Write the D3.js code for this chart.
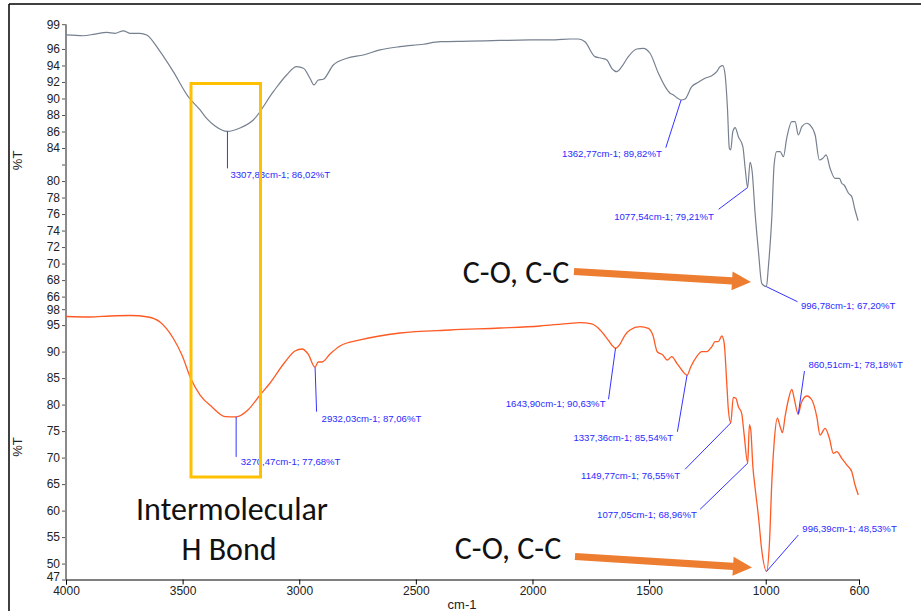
<!DOCTYPE html>
<html><head><meta charset="utf-8">
<script src="https://cdn.jsdelivr.net/npm/d3@7/dist/d3.min.js"></script>
<style>body{margin:0;background:#fff}svg{display:block}</style>
</head><body><svg id="c" width="921" height="611"></svg>
<script>
// ---------- data ----------
const topWn = [4000,3926,3876,3825,3790,3754,3726,3683,3654,3597,3540,3476,3425,3397,3361,3307.83,3254,3197,3111,3054,3011,2982,2954,2937,2918,2897,2854,2796,2725,2654,2568,2468,2396,2268,2139,2010,1903,1839,1803,1775,1732,1703,1681,1660,1639,1617,1589,1553,1525,1496,1460,1431,1410,1396,1381,1362.77,1346,1317,1289,1260,1231,1210,1196,1184,1174,1164,1156,1150,1141,1131,1117,1098,1088,1077.54,1067,1058,1046,1031,1017,996.78,989,974,964,953,938,924,910,888,874,860,845,824,810,788,770,755,741,724,703,684,674,664,645,631,617,607,604];
const topT = [97.7,97.6,97.8,98.0,97.9,98.2,97.9,97.9,97.7,95.7,93.25,90.22,88.61,87.6,86.67,86.02,86.43,87.4,90.83,92.85,93.85,93.66,92.45,91.64,92.24,92.33,94.06,94.87,95.27,95.88,96.28,96.57,96.88,96.94,97.03,97.09,97.11,97.21,97.21,96.88,95.07,94.87,94.67,93.66,93.25,93.85,95.07,96.0,96.08,95.48,93.05,91.43,90.63,90.43,90.1,89.82,89.94,91.43,91.96,92.45,92.76,93.25,93.85,93.98,92.85,88.81,83.97,83.76,85.98,86.46,85.37,84.16,81.55,79.21,82.27,81.13,76.29,71.44,67.61,67.2,69.43,75.49,81.95,83.56,83.56,82.95,85.18,87.19,87.19,85.58,86.59,87.0,86.79,85.58,82.55,82.76,83.16,81.55,80.33,80.33,79.73,79.52,78.52,78.1,76.49,75.49,75.2];

const botWn = [4000,3897,3811,3726,3648,3597,3541,3503,3464,3425,3374,3318,3270.47,3220,3168,3125,3061,3018,2988,2962,2932.03,2919,2902,2868,2825,2739,2568,2353,2139,1967,1839,1796,1746,1710,1681,1660,1643.9,1627,1603,1582,1539,1503,1484,1465,1441,1422,1403,1381,1360,1337.36,1321,1296,1274,1253,1231,1217,1203,1188,1178,1167,1160,1149.77,1139,1128,1117,1103,1093,1077.05,1070,1064,1055,1046,1031,1017,996.39,984,974,964,950,938,928,917,903,888,878,860.51,848,824,802,781,767,745,727,710,695,674,652,631,617,603];
const botT = [96.62,96.53,96.72,96.81,96.53,95.58,92.57,89.36,84.83,81.81,79.55,77.75,77.68,78.98,81.81,84.08,88.04,90.11,90.49,89.55,87.06,88.04,88.04,89.55,91.06,92.19,93.51,94.08,94.45,94.83,95.34,95.45,95.21,94.08,92.51,91.25,90.63,91.25,93.13,94.08,94.7,94.4,93.13,89.98,89.36,88.41,89.04,87.79,86.53,85.54,87.15,89.04,89.98,89.98,90.92,91.87,91.87,92.94,91.57,84.02,78.98,76.55,81.38,81.19,79.6,78.36,74.58,68.96,76.15,75.21,68.28,64.51,58.85,52.57,48.53,53.83,65.15,72.7,77.42,75.83,74.7,77.72,80.87,82.89,81.19,78.18,80.25,81.62,80.87,77.72,74.26,75.53,73.64,70.81,71.11,69.87,68.6,67.34,64.83,62.94];

const topPeakWn = [3307.83, 1362.77, 1077.54, 996.78];
const topPeakT  = [86.02, 89.82, 79.21, 67.20];
const botPeakWn = [3270.47, 2932.03, 1643.90, 1337.36, 1149.77, 1077.05, 996.39, 860.51];
const botPeakT  = [77.68, 87.06, 90.63, 85.54, 76.55, 68.96, 48.53, 78.18];

const xTicks = [4000, 3500, 3000, 2500, 2000, 1500, 1000, 600];
const topTicks = [99, 96, 94, 92, 90, 88, 86, 84, 82, 80, 78, 76, 74, 72, 70, 68, 66];
const topTickLabels = ["99","96","94","92","90","88","86","84","","80","78","76","74","72","70","68","66"];
const botTicks = [98, 95, 90, 85, 80, 75, 70, 65, 60, 55, 50, 47];

const xTitle = "cm-1", yTitle = "%T";
const noteText = ["Intermolecular", "H Bond"];
const bondText = "C-O, C-C";

// ---------- layout ----------
const topLayout = [
  {lx:0, ly:37, tx:3, ty:9.5, anchor:"start"},
  {lx:-15.3, ly:47.7, tx:-4, ty:9, anchor:"end"},
  {lx:-29, ly:21.7, tx:-4.7, ty:10.5, anchor:"end"},
  {lx:31, ly:15, tx:3.5, ty:7, anchor:"start"}
];
const botLayout = [
  {lx:0, ly:40, tx:4.6, ty:8.3, anchor:"start"},
  {lx:1.5, ly:44.5, tx:5, ty:10.8, anchor:"start"},
  {lx:-7, ly:51, tx:-3, ty:8.2, anchor:"end"},
  {lx:-9.6, ly:56.5, tx:-4.3, ty:9.3, anchor:"end"},
  {lx:-45.7, ly:46.4, tx:-5, ty:9.7, anchor:"end"},
  {lx:-47.6, ly:46.2, tx:-3.3, ty:8.5, anchor:"end"},
  {lx:31.8, ly:-36.4, tx:4, ty:-2.5, anchor:"start"},
  {lx:6.2, ly:-43.2, tx:4, ty:-3.2, anchor:"start"}
];

const svg = d3.select("#c");
const x = d3.scaleLinear().domain([4000, 600]).range([66, 859]);
const yTop = d3.scaleLinear().domain([66, 99]).range([296.6, 24.2]);
const yBot = d3.scaleLinear().domain([47, 98]).range([579.5, 309.2]);

// frame
svg.append("line").attr("x1",9).attr("x2",921).attr("y1",4).attr("y2",4).attr("stroke","#000").attr("stroke-width",1.5);
svg.append("line").attr("x1",9).attr("x2",9).attr("y1",4).attr("y2",611).attr("stroke","#000").attr("stroke-width",1.5);

const tickFont = "'Liberation Sans', Arial, sans-serif";

// y axes
function yAxis(scale, vals, labels) {
  const g = svg.append("g").attr("transform","translate(66,0)")
    .call(d3.axisLeft(scale).tickValues(vals).tickSize(4).tickPadding(2)
      .tickFormat((d,i) => labels ? labels[i] : d));
  g.select(".domain").remove();
  g.selectAll(".tick line").attr("stroke","#555");
  g.selectAll(".tick text").attr("fill","#222").style("font-family",tickFont).style("font-size","12px");
  return g;
}
yAxis(yTop, topTicks, topTickLabels);
const gb = yAxis(yBot, botTicks, null);
gb.selectAll(".tick text").filter(d => d === 47).attr("dy","0.1em");
svg.append("line").attr("x1",66).attr("x2",66).attr("y1",yTop(99)).attr("y2",yBot(47))
  .attr("stroke","#8a8a8a").attr("stroke-width",2);

// x axis
const gx = svg.append("g").attr("transform",`translate(0,${yBot(47)})`)
  .call(d3.axisBottom(x).tickValues(xTicks).tickSize(5).tickPadding(2).tickFormat(d3.format("d")));
gx.select(".domain").attr("stroke","#000");
gx.selectAll(".tick line").attr("stroke","#000");
gx.selectAll(".tick text").attr("fill","#222").style("font-family",tickFont).style("font-size","12px");

svg.append("text").attr("x",462).attr("y",609).attr("text-anchor","middle")
  .style("font-family",tickFont).style("font-size","13px").attr("fill","#222").text(xTitle);
[yTop(82.5), yBot(72)].forEach(cy => {
  svg.append("text").attr("transform",`translate(22,${cy}) rotate(-90)`).attr("text-anchor","middle")
    .style("font-family",tickFont).style("font-size","13px").attr("fill","#222").text(yTitle);
});

// curves
const lineTop = d3.line().x(d => x(d[0])).y(d => yTop(d[1])).curve(d3.curveMonotoneX);
const lineBot = d3.line().x(d => x(d[0])).y(d => yBot(d[1])).curve(d3.curveMonotoneX);
svg.append("path").attr("d", lineTop(d3.zip(topWn, topT))).attr("fill","none")
  .attr("stroke","#76808f").attr("stroke-width",1.2);
svg.append("path").attr("d", lineBot(d3.zip(botWn, botT))).attr("fill","none")
  .attr("stroke","#ff5a24").attr("stroke-width",1.3);

// peak annotations
const fmt = v => d3.format(".2f")(v).replace(".", ",");
function annotate(wns, ts, layout, yScale) {
  wns.forEach((wn, i) => {
    const L = layout[i];
    const px = x(wn), py = yScale(ts[i]);
    const ex = px + L.lx, ey = py + L.ly;
    svg.append("line").attr("x1",px).attr("y1",py).attr("x2",ex).attr("y2",ey)
      .attr("stroke","#3434ff").attr("stroke-width",1);
    svg.append("text").attr("x",ex + L.tx).attr("y",ey + L.ty).attr("text-anchor",L.anchor)
      .style("font-family",tickFont).style("font-size","9.6px").attr("fill","#2a2aff")
      .text(`${fmt(wn)}cm-1; ${fmt(ts[i])}%T`);
  });
}
annotate(topPeakWn, topPeakT, topLayout, yTop);
annotate(botPeakWn, botPeakT, botLayout, yBot);

// highlight box
svg.append("rect").attr("x",191).attr("y",83.5).attr("width",69.5).attr("height",393.5)
  .attr("fill","none").attr("stroke","#ffc000").attr("stroke-width",3);

// big labels
const bigFont = "Carlito, Lato, 'Open Sans', sans-serif";
function big(xp, yp, t) {
  svg.append("text").attr("x",xp).attr("y",yp).attr("text-anchor","middle")
    .style("font-family",bigFont).style("font-size","32px").attr("fill","#111").text(t);
}
big(232, 520, noteText[0]);
big(229, 560, noteText[1]);
big(516, 283, bondText);
big(508, 559, bondText);

// arrows
function arrow(x0, y0, x1, y1) {
  const ang = Math.atan2(y1 - y0, x1 - x0), hl = 19, hw = 9.5, sw = 3.6;
  const bx = x1 - hl * Math.cos(ang), by = y1 - hl * Math.sin(ang);
  const nx = -Math.sin(ang), ny = Math.cos(ang);
  const pts = [[x0 + nx*sw, y0 + ny*sw], [bx + nx*sw, by + ny*sw], [bx + nx*hw, by + ny*hw], [x1, y1],
               [bx - nx*hw, by - ny*hw], [bx - nx*sw, by - ny*sw], [x0 - nx*sw, y0 - ny*sw]];
  svg.append("path").attr("d", "M" + pts.map(p => p.join(",")).join("L") + "Z").attr("fill","#ed7d31");
}
arrow(574, 271.5, 751, 282);
arrow(575, 556.5, 752, 567.5);
</script></body></html>
